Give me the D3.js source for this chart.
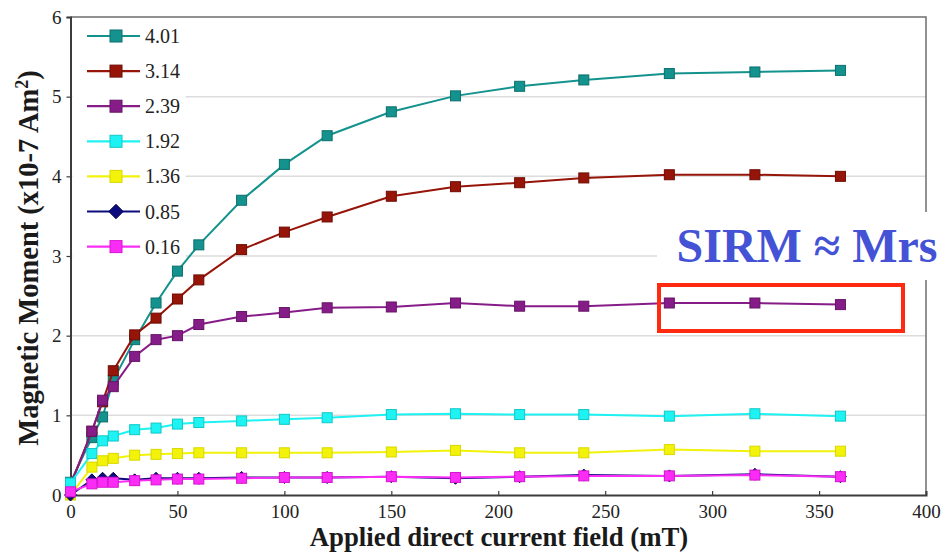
<!DOCTYPE html>
<html>
<head>
<meta charset="utf-8">
<script src="https://cdn.jsdelivr.net/npm/d3@7"></script>
<style>
  html, body { margin: 0; padding: 0; background: #fff; }
  svg { display: block; }
</style>
</head>
<body>
<svg id="chart" width="942" height="554"></svg>
<script>
// Applied field steps (mT)
const fieldSteps = [0, 10, 15, 20, 30, 40, 50, 60, 80, 100, 120, 150, 180, 210, 240, 280, 320, 360];

// Magnetic moment (x10^-7 Am^2) for each sample
const series401 = [0.16, 0.72, 0.98, 1.44, 1.95, 2.41, 2.81, 3.14, 3.70, 4.15, 4.51, 4.81, 5.01, 5.13, 5.21, 5.29, 5.31, 5.33];
const series314 = [0.13, 0.80, 1.17, 1.56, 2.01, 2.22, 2.46, 2.70, 3.08, 3.30, 3.49, 3.75, 3.87, 3.92, 3.98, 4.02, 4.02, 4.00];
const series239 = [0.12, 0.80, 1.19, 1.36, 1.74, 1.95, 2.00, 2.14, 2.24, 2.29, 2.35, 2.36, 2.41, 2.37, 2.37, 2.41, 2.41, 2.39];
const series192 = [0.15, 0.52, 0.68, 0.74, 0.82, 0.84, 0.89, 0.91, 0.93, 0.95, 0.97, 1.01, 1.02, 1.01, 1.01, 0.99, 1.02, 0.99];
const series136 = [0.00, 0.35, 0.43, 0.46, 0.50, 0.51, 0.52, 0.53, 0.53, 0.53, 0.53, 0.54, 0.56, 0.53, 0.53, 0.57, 0.55, 0.55];
const series085 = [0.00, 0.19, 0.21, 0.21, 0.19, 0.21, 0.21, 0.21, 0.22, 0.22, 0.22, 0.23, 0.21, 0.23, 0.25, 0.24, 0.26, 0.23];
const series016 = [0.04, 0.14, 0.16, 0.16, 0.18, 0.19, 0.20, 0.20, 0.21, 0.22, 0.22, 0.23, 0.22, 0.23, 0.24, 0.24, 0.25, 0.23];

const seriesNames = ["4.01", "3.14", "2.39", "1.92", "1.36", "0.85", "0.16"];
const seriesValues = [series401, series314, series239, series192, series136, series085, series016];
const seriesColors = ["#13928e", "#961408", "#861c88", "#1ef2f2", "#f2f20a", "#0c0c7e", "#fb2cf6"];
const seriesStroke = ["#0d6f6c", "#6e0d05", "#651466", "#12c8c8", "#d8d800", "#06064f", "#d515d0"];
const seriesShapes = ["square", "square", "square", "square", "square", "diamond", "square"];

const xTicks = [0, 50, 100, 150, 200, 250, 300, 350, 400];
const yTicks = [0, 1, 2, 3, 4, 5, 6];

const svg = d3.select("#chart");
const plotLeft = 70.5, plotRight = 926, plotTop = 17, plotBottom = 495;

const x = d3.scaleLinear().domain([0, 400]).range([plotLeft, plotRight]);
const y = d3.scaleLinear().domain([0, 6]).range([plotBottom, plotTop]);

const serif = "'Liberation Serif', 'Times New Roman', Times, serif";

// horizontal gridlines
svg.append("g")
  .selectAll("line")
  .data(yTicks.filter(d => d > 0 && d < 6))
  .join("line")
  .attr("x1", plotLeft).attr("x2", plotRight)
  .attr("y1", d => y(d)).attr("y2", d => y(d))
  .attr("stroke", "#dcdcdc").attr("stroke-width", 1.5);

// plot frame (top and right)
svg.append("path")
  .attr("d", `M${plotLeft},${plotTop}H${plotRight}V${plotBottom}`)
  .attr("fill", "none").attr("stroke", "#6e6e6e").attr("stroke-width", 1.5);

// axes
const yAxis = svg.append("g")
  .attr("transform", `translate(${plotLeft},0)`)
  .call(d3.axisLeft(y).tickValues(yTicks).tickFormat(d3.format("d")).tickSize(4).tickPadding(5));
const xAxis = svg.append("g")
  .attr("transform", `translate(0,${plotBottom})`)
  .call(d3.axisBottom(x).tickValues(xTicks).tickFormat(d3.format("d")).tickSize(-4).tickPadding(10));

[yAxis, xAxis].forEach(g => {
  g.attr("font-family", serif).attr("font-size", 19);
  g.select(".domain").attr("stroke", "#3c3c3c").attr("stroke-width", 2);
  g.selectAll(".tick line").attr("stroke", "#3c3c3c").attr("stroke-width", 1.2);
  g.selectAll(".tick text").attr("fill", "#222");
});

// legend panel (white backdrop hides gridlines)
svg.append("rect")
  .attr("x", plotLeft + 2).attr("y", plotTop + 2)
  .attr("width", 113).attr("height", 248)
  .attr("fill", "#fff");

const line = d3.line()
  .x((d, i) => x(fieldSteps[i]))
  .y(d => y(d));

function drawMarker(sel, shape, size, fill, stroke) {
  if (shape === "diamond") {
    const r = size * 0.6;
    sel.append("path")
      .attr("d", `M0,${-r}L${r},0L0,${r}L${-r},0Z`)
      .attr("fill", fill).attr("stroke", stroke).attr("stroke-width", 1);
  } else {
    sel.append("rect")
      .attr("x", -size / 2).attr("y", -size / 2)
      .attr("width", size).attr("height", size)
      .attr("fill", fill).attr("stroke", stroke).attr("stroke-width", 1);
  }
}

// series lines and markers
seriesValues.forEach((vals, k) => {
  const g = svg.append("g");
  g.append("path")
    .datum(vals)
    .attr("d", line)
    .attr("fill", "none")
    .attr("stroke", seriesColors[k])
    .attr("stroke-width", 2);
  vals.forEach((v, i) => {
    const m = g.append("g").attr("transform", `translate(${x(fieldSteps[i])},${y(v)})`);
    drawMarker(m, seriesShapes[k], 10, seriesColors[k], seriesStroke[k]);
  });
});

// legend entries
const legend = svg.append("g");
seriesNames.forEach((name, k) => {
  const ly = 36 + k * 35.1;
  legend.append("line")
    .attr("x1", 87).attr("x2", 140).attr("y1", ly).attr("y2", ly)
    .attr("stroke", seriesColors[k]).attr("stroke-width", 2.2);
  const m = legend.append("g").attr("transform", `translate(116,${ly})`);
  drawMarker(m, seriesShapes[k], 12, seriesColors[k], seriesStroke[k]);
  legend.append("text")
    .attr("x", 145).attr("y", ly)
    .attr("dy", "0.35em")
    .attr("fill", "#222")
    .attr("font-family", serif)
    .attr("font-size", 20)
    .text(name);
});

// axis titles
svg.append("text")
  .attr("x", 499).attr("y", 546)
  .attr("text-anchor", "middle")
  .attr("fill", "#1a1a1a")
  .attr("font-family", serif)
  .attr("font-weight", "bold")
  .attr("font-size", 26.8)
  .text("Applied direct current field (mT)");

const yTitle = svg.append("text")
  .attr("transform", "translate(38,258) rotate(-90)")
  .attr("text-anchor", "middle")
  .attr("fill", "#1a1a1a")
  .attr("font-family", serif)
  .attr("font-weight", "bold")
  .attr("font-size", 28.5);
yTitle.append("tspan").text("Magnetic Moment (x10-7 Am");
yTitle.append("tspan").attr("baseline-shift", "super").attr("font-size", 18).text("2");
yTitle.append("tspan").text(")");

// annotation
svg.append("rect")
  .attr("x", 657).attr("y", 212)
  .attr("width", 285).attr("height", 68)
  .attr("fill", "#fff");
svg.append("text")
  .attr("x", 807).attr("y", 262)
  .attr("text-anchor", "middle")
  .attr("fill", "#4452d6")
  .attr("font-family", serif)
  .attr("font-weight", "bold")
  .attr("font-size", 48)
  .text("SIRM ≈ Mrs");
svg.append("rect")
  .attr("x", 659).attr("y", 285)
  .attr("width", 244).attr("height", 46)
  .attr("fill", "none")
  .attr("stroke", "#ff2a10")
  .attr("stroke-width", 4);
</script>
</body>
</html>
